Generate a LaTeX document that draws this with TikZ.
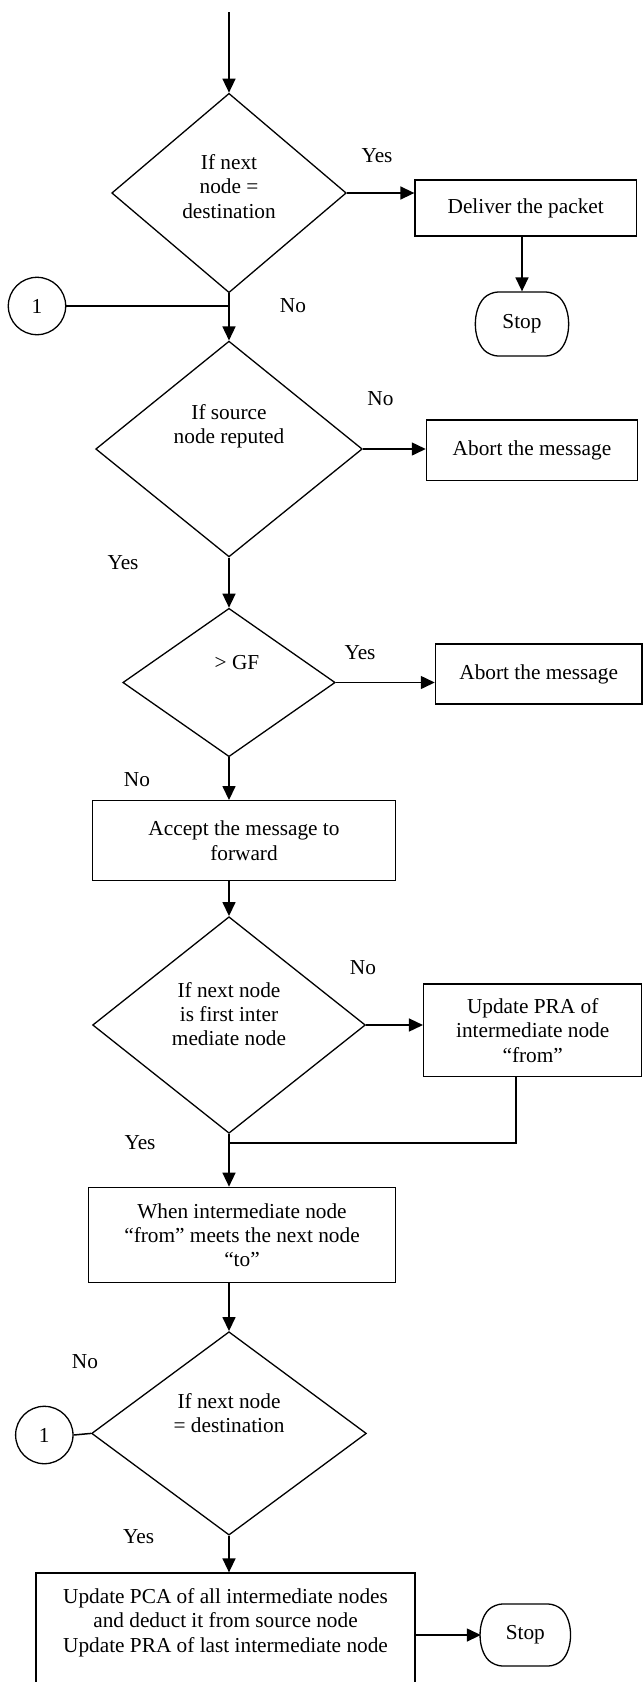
\documentclass[tikz,border=0pt]{standalone}
\usepackage{fontspec}
\setmainfont{Liberation Serif}
\usetikzlibrary{arrows.meta,shapes.geometric,shapes.misc}
\tikzset{
  box/.style={draw,line width=0.65pt,align=center,inner sep=2pt},
  decision/.style={draw,diamond,line width=0.65pt,inner sep=0pt},
  term/.style={draw,rounded rectangle,rounded rectangle arc length=90,rounded corners=4pt,line width=0.65pt,inner sep=1pt},
  conn/.style={draw,circle,line width=0.65pt,minimum size=28.7pt,inner sep=0pt},
  lbl/.style={inner sep=0pt},
  flow/.style={->,line width=0.75pt},
  link/.style={line width=0.75pt}
}

\begin{document}
\begin{tikzpicture}[x=0.5pt,y=-0.5pt,>={Triangle[length=7pt,width=6.5pt]},
  every node/.append style={font=\fontsize{10.65}{12.15}\selectfont}]
  \useasboundingbox (0,0) rectangle (643,1682);
  \coordinate (start) at (229,12);
  \node[decision,minimum width=117.3pt,minimum height=99.7pt,
    label={[name=d1t,align=center,yshift=3.3pt]center:{If next\\node =\\destination}}] (d1) at (229,193) {};
  \node[box,minimum width=110.7pt,minimum height=28pt] (deliver) at (525.7,208) {Deliver the packet};
  \node[term,minimum width=45.8pt,minimum height=32pt] (stop1) at (522,324) {Stop};
  \node[conn] (c1) at (37,306) {1};
  \node[decision,minimum width=133.3pt,minimum height=107.9pt,
    label={[name=d2t,align=center,yshift=11.5pt]center:{If source\\node reputed}}] (d2) at (229,449) {};
  \node[box,minimum width=105.6pt,minimum height=30.4pt] (abort1) at (532,450.3) {Abort the message};
  \node[decision,minimum width=106.2pt,minimum height=74.2pt,
    label={[name=d3t,xshift=4pt,yshift=10pt]center:{> GF}}] (d3) at (229,682.5) {};
  \node[box,minimum width=103.3pt,minimum height=30pt] (abort2) at (538.7,674) {Abort the message};
  \node[box,minimum width=151.7pt,minimum height=40pt] (accept) at (244,840.7) {Accept the message to\\forward};
  \node[decision,minimum width=136.4pt,minimum height=108.3pt,
    label={[name=d4t,align=center,yshift=5.5pt]center:{If next node\\is first inter\\mediate node}}] (d4) at (229,1025) {};
  \node[box,minimum width=109.1pt,minimum height=46.4pt] (upd) at (532.7,1030.3) {Update PRA of\\intermediate node\\“from”};
  \coordinate (j2) at (229,1143);
  \node[box,minimum width=153.8pt,minimum height=47.7pt] (when) at (242,1235) {When intermediate node\\“from” meets the next node\\“to”};
  \node[decision,minimum width=137.4pt,minimum height=101.7pt,
    label={[name=d5t,align=center,yshift=10pt]center:{If next node\\= destination}}] (d5) at (229,1433.4) {};
  \node[conn] (c2) at (44.3,1435) {1};
  \node[box,minimum width=189.5pt,minimum height=60pt,
    label={[name=finalt,align=center,yshift=5.2pt]center:{Update PCA of all intermediate nodes\\and deduct it from source node\\Update PRA of last intermediate node}}] (final) at (225.5,1633) {};
  \node[term,minimum width=45.5pt,minimum height=31pt] (stop2) at (525.3,1635) {Stop};

  \node[lbl] (yes1) at (377,156) {Yes};
  \node[lbl] (no1) at (293,306) {No};
  \node[lbl] (no2) at (380.5,399) {No};
  \node[lbl] (yes2) at (123,563) {Yes};
  \node[lbl] (yes3) at (360,653) {Yes};
  \node[lbl] (no3) at (137,780) {No};
  \node[lbl] (no4) at (363,968) {No};
  \node[lbl] (yes4) at (140,1143) {Yes};
  \node[lbl] (no5) at (85,1362) {No};
  \node[lbl] (yes5) at (138.6,1537) {Yes};

  \draw[flow] (start) -- (d1.north);
  \draw[flow] (d1.east) -- (d1.east -| deliver.west);
  \draw[flow] (stop1.north |- deliver.south) -- (stop1.north);
  \draw[link] (c1.east) -- (c1.east -| d1.south);
  \draw[flow] (d1.south) -- (d2.north);
  \draw[flow] (d2.east) -- (d2.east -| abort1.west);
  \draw[flow] (d2.south) -- (d3.north);
  \draw[flow] (d3.east) -- (d3.east -| abort2.west);
  \draw[flow] (d3.south) -- (d3.south |- accept.north);
  \draw[flow] (d4.north |- accept.south) -- (d4.north);
  \draw[flow] (d4.east) -- (d4.east -| upd.west);
  \draw[link] ([xshift=-8.3pt]upd.south) |- (j2);
  \draw[flow] (d4.south) -- (d4.south |- when.north);
  \draw[flow] (d5.north |- when.south) -- (d5.north);
  \draw[link] (c2.east) -- (d5.west);
  \draw[flow] (d5.south) -- (d5.south |- final.north);
  \draw[flow] (final.east |- stop2.west) -- (stop2.west);
\end{tikzpicture}
\end{document}
